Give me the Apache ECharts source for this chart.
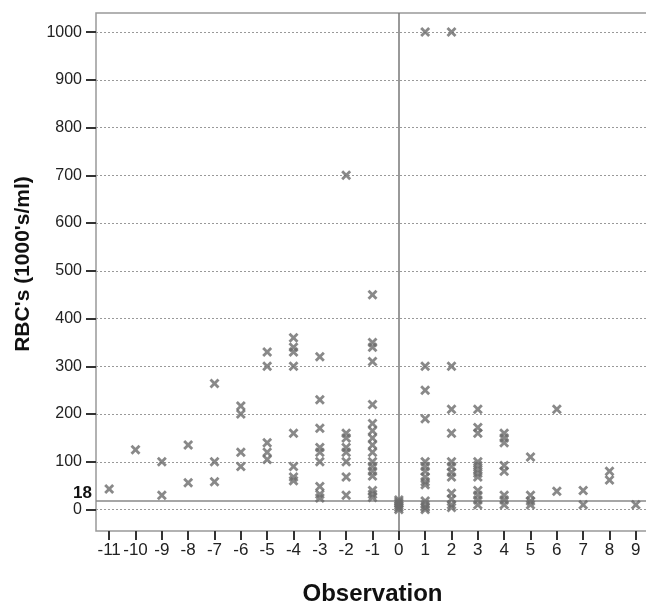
<!DOCTYPE html>
<html>
<head>
<meta charset="utf-8">
<script src="https://cdn.jsdelivr.net/npm/echarts@6/dist/echarts.min.js"></script>
<style>
  html, body { margin: 0; padding: 0; background: #fff; }
  #chart { width: 646px; height: 606px; }
</style>
</head>
<body>
<div id="chart"></div>
<script>
// observation index (x) and the RBC readings seen at each one
const observations = [-11, -10, -9, -8, -7, -6, -5, -4, -3, -2, -1, 0, 1, 2, 3, 4, 5, 6, 7, 8, 9];
const rbcValues = [
  [43],
  [125],
  [100, 30],
  [135, 56],
  [264, 100, 58],
  [217, 200, 120, 90],
  [330, 300, 140, 120, 105],
  [360, 340, 330, 300, 160, 90, 68, 60],
  [320, 230, 170, 130, 120, 100, 48, 32, 24],
  [700, 160, 150, 130, 120, 100, 68, 30],
  [450, 350, 340, 310, 220, 180, 165, 150, 135, 120, 100, 90, 80, 70, 40, 32, 25],
  [0, 4, 8, 12, 16, 20],
  [1000, 300, 250, 190, 100, 90, 80, 68, 58, 52, 18, 10, 4, 0],
  [1000, 300, 210, 160, 100, 90, 78, 68, 34, 22, 10, 4],
  [210, 172, 160, 100, 92, 84, 76, 68, 40, 30, 20, 10],
  [160, 150, 140, 92, 80, 30, 20, 10],
  [110, 30, 18, 10],
  [210, 38],
  [40, 10],
  [80, 62],
  [10]
];
const yTicks = [0, 100, 200, 300, 400, 500, 600, 700, 800, 900, 1000];
const threshold = 18;

const points = [];
observations.forEach(function (obs, i) {
  rbcValues[i].forEach(function (v) { points.push([obs, v]); });
});

const crossSymbol = 'path://M2,0 L5,3 L8,0 L10,2 L7,5 L10,8 L8,10 L5,7 L2,10 L0,8 L3,5 L0,2 Z';

const chart = echarts.init(document.getElementById('chart'));
chart.setOption({
  animation: false,
  backgroundColor: '#fff',
  grid: {
    left: 96,
    top: 13,
    right: -3,
    bottom: 75,
    outerBoundsMode: 'none',
    containLabel: false,
    show: true,
    borderColor: '#999',
    borderWidth: 1.5
  },
  xAxis: {
    type: 'value',
    min: -11.5,
    max: 9.5,
    name: 'Observation',
    nameLocation: 'middle',
    nameGap: 51,
    nameTextStyle: { fontFamily: 'Liberation Sans', fontWeight: 'bold', fontSize: 24, color: '#111' },
    axisLine: { show: false, onZero: false },
    axisTick: { show: true, inside: false, length: 9, customValues: observations, lineStyle: { color: '#333', width: 2 } },
    axisLabel: { customValues: observations, margin: 11, fontFamily: 'Liberation Sans', fontSize: 17, color: '#222',
      formatter: function (v) { return String(v); } },
    splitLine: { show: false }
  },
  yAxis: {
    type: 'value',
    min: -45,
    max: 1040,
    name: "RBC's (1000's/ml)",
    nameLocation: 'middle',
    nameGap: 62,
    nameTextStyle: { fontFamily: 'Liberation Sans', fontWeight: 'bold', fontSize: 21, color: '#111',
      padding: [0, 0, 0, 16] },
    axisLine: { show: false, onZero: false },
    axisTick: { show: true, inside: false, length: 10, customValues: yTicks, lineStyle: { color: '#333', width: 2 } },
    axisLabel: { customValues: yTicks, margin: 14, fontFamily: 'Liberation Sans', fontSize: 16, color: '#222',
      formatter: function (v) { return String(v); } },
    splitLine: { show: false }
  },
  series: [
    {
      // dotted gridlines at the labelled ticks
      type: 'line',
      data: [],
      silent: true,
      z: 1,
      markLine: {
        silent: true,
        symbol: 'none',
        label: { show: false },
        lineStyle: { color: '#999', type: [2, 2], width: 1 },
        data: yTicks.map(function (t) { return { yAxis: t }; })
      }
    },
    {
      // threshold line and the zero observation line
      type: 'line',
      data: [],
      silent: true,
      z: 2,
      markLine: {
        silent: true,
        symbol: 'none',
        data: [
          {
            yAxis: threshold,
            lineStyle: { color: '#888', type: 'solid', width: 1.7 },
            label: {
              show: true,
              position: 'start',
              formatter: threshold + '\n ',
              fontFamily: 'Liberation Sans',
              fontWeight: 'bold',
              fontSize: 17,
              lineHeight: 16,
              color: '#111',
              distance: 4
            }
          },
          {
            xAxis: 0,
            lineStyle: { color: '#777', type: 'solid', width: 1.5 },
            label: { show: false }
          }
        ]
      }
    },
    {
      type: 'scatter',
      z: 5,
      symbol: crossSymbol,
      symbolSize: 10,
      itemStyle: { color: '#6c6c6c' },
      data: points
    }
  ]
});
</script>
</body>
</html>
